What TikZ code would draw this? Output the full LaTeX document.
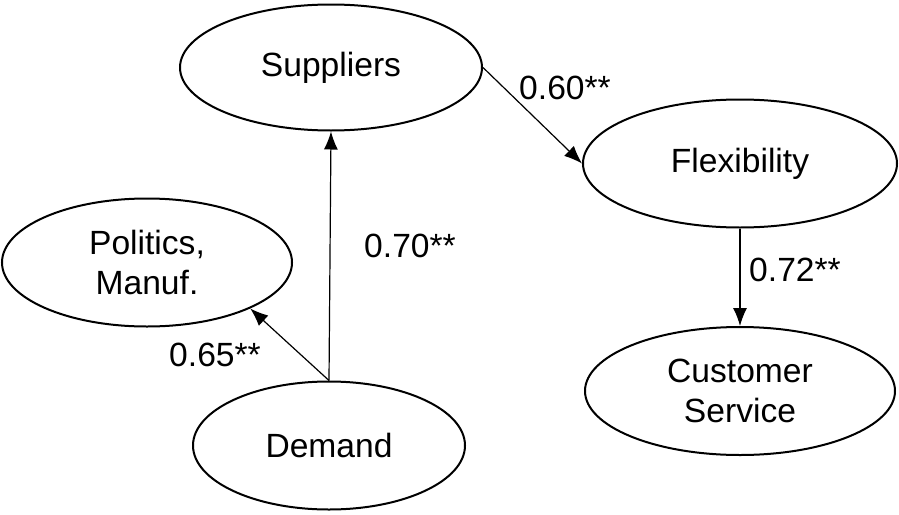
\documentclass[tikz,border=0pt]{standalone}
\usepackage{fontspec}
\setmainfont{Liberation Sans}
\usepackage{tikz}
\usetikzlibrary{arrows.meta,shapes.geometric}

\begin{document}
\begin{tikzpicture}[>={Latex[length=9pt,width=7pt]},x=0.5pt,y=-0.5pt,
    factor/.style={ellipse,draw,line width=1pt,inner sep=0pt,align=center,
      font=\fontsize{16.8}{20}\selectfont},
    coef/.style={font=\fontsize{16.8}{20}\selectfont}]
  \useasboundingbox (0,0) rectangle (899,514);
  \node[factor,minimum width=151pt,minimum height=63pt] (sup) at (331,67.5) {Suppliers};
  \node[factor,minimum width=157pt,minimum height=64pt] (flex) at (740,163.5) {Flexibility};
  \node[factor,minimum width=145pt,minimum height=64pt] (pol) at (147,262.5) {Politics,\\Manuf.};
  \node[factor,minimum width=155pt,minimum height=64pt] (cust) at (740,391) {Customer\\Service};
  \node[factor,minimum width=136pt,minimum height=64pt] (dem) at (329,445.5) {Demand};

  \path[->,line width=0.6pt]
        (dem.north) edge node {} (sup.south)
        (dem.north) edge node {} (pol.-24)
        (sup.east)  edge node {} (flex.west)
        (flex.south) edge node {} (cust.north);

  \node[coef] (c1) at (565,88)  {0.60**};
  \node[coef] (c2) at (410,246) {0.70**};
  \node[coef] (c3) at (795,270) {0.72**};
  \node[coef] (c4) at (215,355) {0.65**};
\end{tikzpicture}
\end{document}
